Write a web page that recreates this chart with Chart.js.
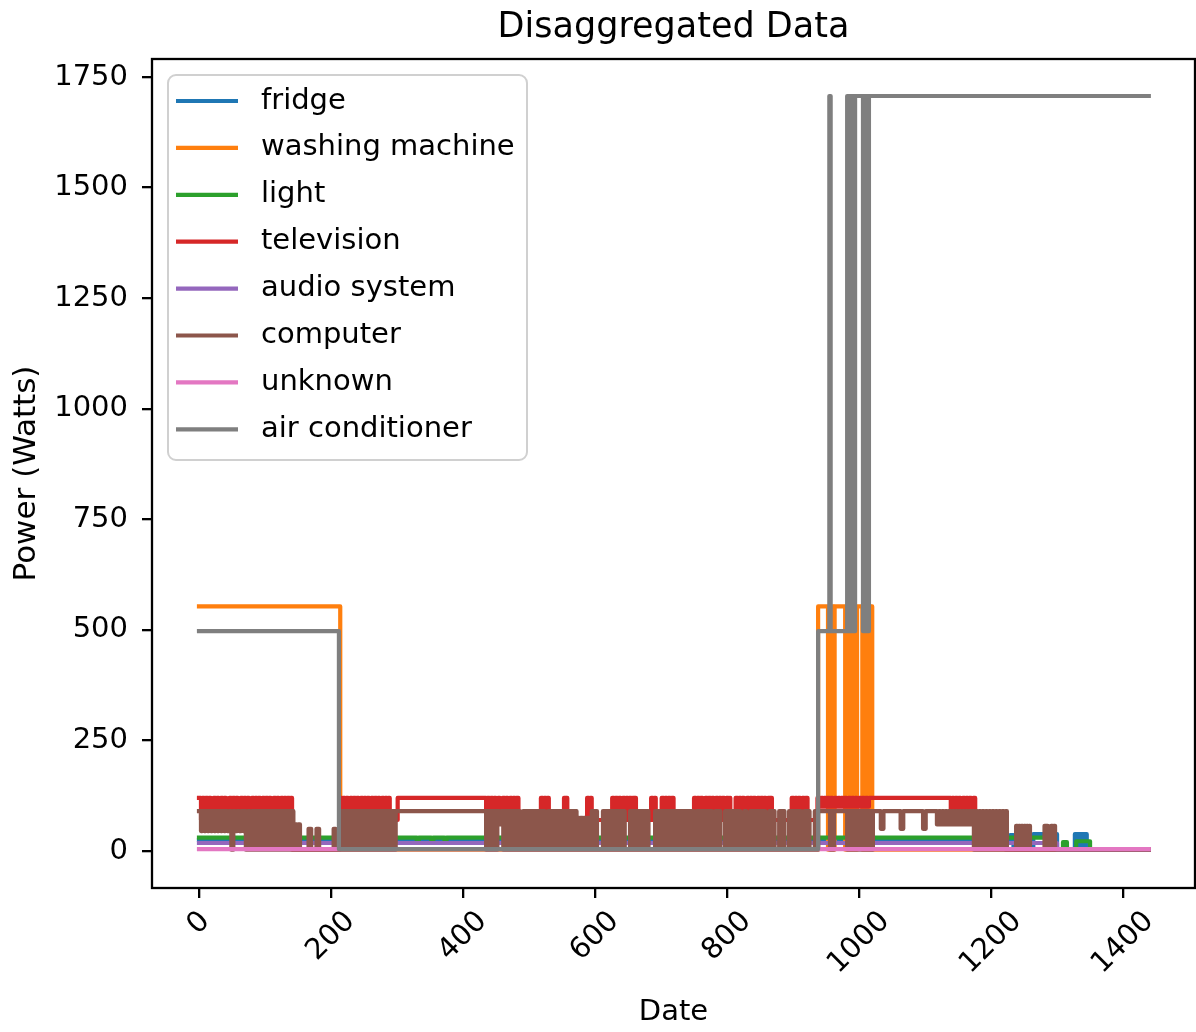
<!DOCTYPE html>
<html><head><meta charset="utf-8">
<script src="https://cdn.jsdelivr.net/npm/chart.js@4.4.1/dist/chart.umd.min.js"></script>
<style>html,body{margin:0;padding:0;background:#fff;}#wrap{width:1196px;height:1032px;}</style>
</head><body><div id="wrap"><canvas id="c" width="1196" height="1032"></canvas></div>
<script>
// ---------- data (minute of day, watts) as change points: value holds until next point ----------
const seriesNames = ['fridge','washing machine','light','television','audio system','computer','unknown','air conditioner'];
const seriesColors = ['#1f77b4','#ff7f0e','#2ca02c','#d62728','#9467bd','#8c564b','#e377c2','#7f7f7f'];
const xTickValues = [0,200,400,600,800,1000,1200,1400];
const yTickValues = [0,250,500,750,1000,1250,1500,1750];

const fridge = [[0,25],[1229,36],[1234,3],[1264,38],[1300,3],[1327,38],[1330,3],[1332,38],[1335,3],[1337,38],[1340,3],[1342,38],[1345,3],[1439,3]];

const washingMachine = [[0,553],[214,3],[938,553],[953,3],[955,553],[957,3],[959,553],[961,3],[963,553],
 [979,3],[981,553],[983,3],[985,553],[987,3],[989,553],[991,3],[993,553],[995,3],[997,553],
 [1005,3],[1007,553],[1009,3],[1011,553],[1013,3],[1015,553],[1017,3],[1019,553],[1020,3],[1439,3]];

const light = [[0,30],[330,22],[333,30],[352,22],[355,30],[372,22],[375,30],[1259,30],[1289,3],
 [1309,20],[1315,3],[1329,22],[1350,3],[1439,3]];

const television = [[0,120],[3,70],[5,120],[8,70],[10,120],[13,70],[15,120],[18,70],[22,120],[25,70],[27,120],[30,70],
 [33,120],[36,70],[38,120],[41,70],[46,120],[49,70],[51,120],[54,70],[56,120],[59,70],[63,120],[66,70],[68,120],[71,70],
 [73,120],[76,70],[80,120],[83,70],[85,120],[88,70],[90,120],[93,70],[96,120],[99,70],[101,120],[104,70],[106,120],[109,70],
 [113,120],[116,70],[118,120],[121,70],[124,120],[127,70],[129,120],[132,70],[134,120],[137,70],[139,120],[141,3],
 [213,120],[216,70],[218,120],[221,70],[223,120],[226,70],[229,120],[232,70],[234,120],[237,70],[239,120],[242,70],
 [245,120],[248,70],[250,120],[253,70],[255,120],[258,70],[261,120],[264,70],[266,120],[269,70],[271,120],[274,70],
 [277,120],[280,70],[282,120],[285,70],[287,120],[289,70],[301,120],
 [435,70],[437,120],[440,70],[442,120],[445,70],[447,120],[450,70],[453,120],[456,70],[460,120],[463,70],[465,120],
 [468,70],[471,120],[474,70],[476,120],[479,70],[481,120],[484,70],
 [518,120],[521,70],[523,120],[526,70],[528,120],[530,70],[553,120],[556,70],[557,120],[558,70],
 [588,120],[591,70],[593,120],[595,70],
 [626,120],[629,70],[631,120],[634,70],[636,120],[639,70],[642,120],[645,70],[647,120],[650,70],[652,120],[655,70],
 [657,120],[660,70],[661,120],[662,70],[685,120],[688,70],[690,120],[692,70],
 [701,120],[704,70],[706,120],[709,70],[711,120],[714,70],[716,120],[719,70],
 [750,120],[753,70],[755,120],[758,70],[760,120],[763,70],[767,120],[770,70],[772,120],[775,70],[777,120],[780,70],
 [783,120],[786,70],[788,120],[791,70],[793,120],[796,70],[799,120],[802,70],[804,120],[805,70],
 [813,120],[816,70],[818,120],[821,70],[823,120],[826,70],[830,120],[833,70],[835,120],[838,70],[840,120],[843,70],
 [846,120],[849,70],[851,120],[854,70],[856,120],[859,70],[862,120],[865,70],[866,120],[868,70],
 [898,120],[901,70],[903,120],[906,70],[908,120],[911,70],[914,120],[917,70],[919,120],[922,70],
 [937,120],[940,100],[942,120],[945,100],[947,120],[950,100],[952,120],[955,100],[957,120],[960,100],[963,120],[966,100],
 [968,120],[971,100],[973,120],[976,100],[978,120],[981,100],[984,120],[987,100],[989,120],[992,100],[994,120],[997,100],
 [1000,120],[1003,100],[1005,120],[1008,100],[1010,120],[1013,100],[1015,120],
 [1139,70],[1141,120],[1144,70],[1146,120],[1149,70],[1151,120],[1154,70],[1157,120],[1160,70],[1162,120],[1165,70],
 [1167,120],[1170,70],[1173,120],[1176,70],[1210,75],[1222,3],[1439,3]];

const audioSystem = [[0,18],[1300,3],[1439,3]];

const computer = [[0,90],[3,45],[5,90],[8,45],[10,90],[13,45],[15,90],[18,45],[20,90],[23,45],[25,90],[28,45],[30,90],
 [33,45],[35,90],[38,45],[40,90],[43,45],[46,90],[49,3],[52,90],[55,45],[58,90],[61,45],[64,90],[67,45],[69,90],[71,3],
 [74,90],[77,3],[80,90],[83,3],[85,90],[88,3],[90,90],[93,3],[95,90],[98,3],[100,90],[103,3],[105,90],[108,3],[110,90],
 [113,3],[115,90],[118,3],[120,90],[123,3],[125,90],[128,3],[130,90],[133,3],[135,90],[138,3],[140,90],[143,3],[145,60],
 [148,3],[150,60],[153,3],[166,50],[170,3],[178,50],[182,3],[204,50],[207,3],
 [213,90],[216,3],[218,90],[221,3],[223,90],[226,3],[228,90],[231,3],[233,90],[236,3],[238,90],[241,3],[243,90],[246,3],
 [248,90],[251,3],[253,90],[256,3],[258,90],[261,3],[263,90],[266,3],[268,90],[271,3],[273,90],[276,3],[278,90],[281,3],
 [283,90],[286,3],[288,90],[291,3],[293,90],[296,3],[298,90],
 [435,3],[437,90],[440,3],[442,90],[445,3],[447,90],[450,3],[452,90],[455,60],[458,90],[461,3],[463,90],[466,3],[468,90],
 [471,3],[473,90],[476,3],[478,90],[481,3],[483,90],[486,3],
 [491,90],[494,3],[496,90],[499,3],[501,90],[504,3],[506,90],[509,3],[511,90],[514,3],[516,90],[519,3],[521,90],[524,3],
 [529,90],[532,3],[534,90],[537,3],[539,90],[542,3],[544,90],[547,3],[549,90],[552,3],[554,90],[557,3],[559,90],[562,3],
 [564,90],[567,3],[569,90],[572,3],[573,75],[576,3],[578,75],[581,3],[583,75],[586,3],[588,75],[591,3],
 [595,90],[598,3],[600,90],[603,3],
 [612,90],[615,3],[617,90],[620,3],[622,90],[625,3],[627,90],[630,3],[632,90],[635,3],[637,90],[640,3],[642,90],[645,3],
 [653,90],[656,3],[658,90],[661,3],[663,90],[666,3],[668,90],[671,3],[673,90],[676,3],[678,90],[681,3],
 [691,90],[694,3],[696,90],[699,3],[701,90],[704,3],[706,90],[709,3],[711,90],[714,3],[716,90],[719,3],[721,90],[724,3],
 [726,90],[729,3],[731,90],[734,3],[736,90],[739,3],[741,90],[744,3],[746,90],[749,3],
 [754,90],[757,3],[759,90],[762,3],[764,90],[767,3],[769,90],[772,3],[774,90],[777,3],
 [782,90],[785,3],[787,90],[790,3],
 [797,90],[800,3],[802,90],[805,3],[807,90],[810,3],[812,90],[815,3],[817,90],[820,3],
 [826,90],[829,3],
 [835,90],[838,3],[840,90],[843,3],[845,90],[848,3],[850,90],[853,3],[855,90],[858,3],
 [864,90],[867,3],[869,90],[872,3],[879,90],[882,3],[884,90],[887,3],
 [894,90],[897,3],[899,90],[902,3],[904,90],[907,3],[909,90],[912,3],[917,90],[920,3],[922,90],[925,3],
 [933,90],[936,3],[938,90],
 [956,3],[958,90],[960,3],[962,90],
 [982,3],[984,90],[986,3],[988,90],[990,3],[992,90],[994,3],[996,90],
 [999,3],[1001,90],[1003,3],[1005,90],[1007,3],[1009,90],[1011,3],[1013,90],[1015,3],[1017,90],[1019,3],[1021,90],
 [1033,50],[1037,90],[1063,50],[1067,90],[1097,50],[1101,90],
 [1118,60],[1121,90],[1123,60],[1126,90],[1128,60],[1131,90],[1133,60],[1136,90],
 [1139,60],[1142,90],[1144,60],[1147,90],[1149,60],[1152,90],[1154,60],[1157,90],[1159,60],[1162,90],[1164,60],[1167,90],
 [1169,60],[1172,90],[1174,3],[1177,90],[1179,3],[1182,90],[1184,3],[1187,90],[1189,3],[1192,90],[1194,3],[1197,90],
 [1199,3],[1202,90],[1204,3],[1207,90],[1209,3],[1212,90],[1214,3],[1217,90],[1219,3],[1222,90],[1224,3],
 [1238,57],[1240,3],[1242,57],[1244,3],[1246,57],[1248,3],[1250,57],[1252,3],[1254,57],[1256,3],[1258,57],[1259,3],
 [1281,57],[1283,3],[1284,57],[1286,3],[1291,57],[1293,3],[1295,57],[1297,3],[1439,3]];

const unknown = [[0,4],[1439,4]];

const airConditioner = [[0,497],[212,4],[938,497],[955,1707],[957,497],
 [982,1707],[983,497],[984,1707],[985,497],[986,1707],[987,497],[988,1707],[989,497],[990,1707],[991,497],
 [992,1707],[993,497],[994,1707],
 [1006,497],[1007,1707],[1008,497],[1009,1707],[1010,497],[1011,1707],[1012,497],[1013,1707],[1014,497],
 [1015,1707],[1439,1707]];

const seriesData = [fridge, washingMachine, light, television, audioSystem, computer, unknown, airConditioner];

// ---------- layout constants ----------
const FONT = '"DejaVu Sans", sans-serif';
const X_MIN = -71.2, X_MAX = 1509;
const Y_MIN = -83.7, Y_MAX = 1790.7;

const decorPlugin = {
  id: 'decor',
  afterDatasetsDraw(chart) {
    const {ctx, chartArea: a} = chart;
    ctx.save();
    ctx.strokeStyle = '#000'; ctx.lineWidth = 2.3;
    ctx.strokeRect(a.left, a.top, a.right - a.left, a.bottom - a.top);
    ctx.restore();
  },
  afterDraw(chart) {
    const {ctx, chartArea: a} = chart;
    const xs = chart.scales.x;
    // rotated x tick labels, box centred under the tick (matplotlib style)
    ctx.save();
    ctx.fillStyle = '#000';
    ctx.font = '29px ' + FONT;
    xTickValues.forEach(v => {
      const px = xs.getPixelForValue(v);
      const label = String(v);
      const w = ctx.measureText(label).width;
      const h = 29 * 1.05;
      const H = (w + h) * Math.SQRT1_2;
      const cy = a.bottom + 10 + 8 + H / 2;
      ctx.save();
      ctx.translate(px, cy);
      ctx.rotate(-Math.PI / 4);
      ctx.textAlign = 'center'; ctx.textBaseline = 'middle';
      ctx.fillText(label, 0, 0);
      ctx.restore();
    });
    ctx.restore();

    // legend
    const lx = a.left + 16, ly = a.top + 16, lw = 359, lh = 385, r = 8;
    ctx.save();
    ctx.beginPath();
    ctx.roundRect(lx, ly, lw, lh, r);
    ctx.fillStyle = 'rgba(255,255,255,0.8)';
    ctx.fill();
    ctx.strokeStyle = '#d0d0d0'; ctx.lineWidth = 2;
    ctx.stroke();
    ctx.font = '29px ' + FONT;
    ctx.textAlign = 'left'; ctx.textBaseline = 'middle';
    seriesNames.forEach((name, i) => {
      const y = ly + 26 + i * 46.9;
      ctx.beginPath();
      ctx.moveTo(lx + 8, y); ctx.lineTo(lx + 70, y);
      ctx.strokeStyle = seriesColors[i]; ctx.lineWidth = 4.2; ctx.lineCap = 'butt';
      ctx.stroke();
      ctx.fillStyle = '#000';
      ctx.fillText(name, lx + 93, y);
    });
    ctx.restore();
  }
};

const gridOpts = {display: true, drawOnChartArea: false, drawTicks: true, tickLength: 10,
  tickWidth: 2.3, tickColor: '#000', lineWidth: 2.3, color: '#000'};

new Chart(document.getElementById('c'), {
  type: 'line',
  data: {
    datasets: seriesNames.map((n, i) => ({
      label: n,
      data: seriesData[i],
      borderColor: seriesColors[i],
      backgroundColor: seriesColors[i],
      borderWidth: 4.2,
      pointRadius: 0,
      stepped: true,
      fill: false,
      order: seriesNames.length - 1 - i,
      borderCapStyle: 'square',
      borderJoinStyle: 'round'
    }))
  },
  options: {
    responsive: false,
    animation: false,
    devicePixelRatio: 1,
    layout: {padding: {left: 0, right: 1, top: 0, bottom: 0}},
    plugins: {
      legend: {display: false},
      tooltip: {enabled: false},
      title: {display: true, fullSize: false, text: 'Disaggregated Data', color: '#000',
        font: {family: FONT, size: 35, weight: 'normal', lineHeight: 1.2}, padding: {top: 7, bottom: 10}}
    },
    scales: {
      x: {
        type: 'linear', min: X_MIN, max: X_MAX,
        afterBuildTicks: s => { s.ticks = xTickValues.map(v => ({value: v})); },
        afterFit: s => { s.height = 144; },
        ticks: {display: false},
        grid: gridOpts,
        border: {display: false},
        title: {display: true, text: 'Date', color: '#000', font: {family: FONT, size: 29}, padding: {top: 0, bottom: 2}}
      },
      y: {
        type: 'linear', min: Y_MIN, max: Y_MAX,
        afterBuildTicks: s => { s.ticks = yTickValues.map(v => ({value: v})); },
        afterFit: s => { s.width = 152; },
        ticks: {color: '#000', font: {family: FONT, size: 29}, padding: 14, callback: v => String(v)},
        grid: gridOpts,
        border: {display: false},
        title: {display: true, text: 'Power (Watts)', color: '#000', font: {family: FONT, size: 31}, padding: {top: 8, bottom: 0}}
      }
    }
  },
  plugins: [decorPlugin]
});
</script>
</body></html>
